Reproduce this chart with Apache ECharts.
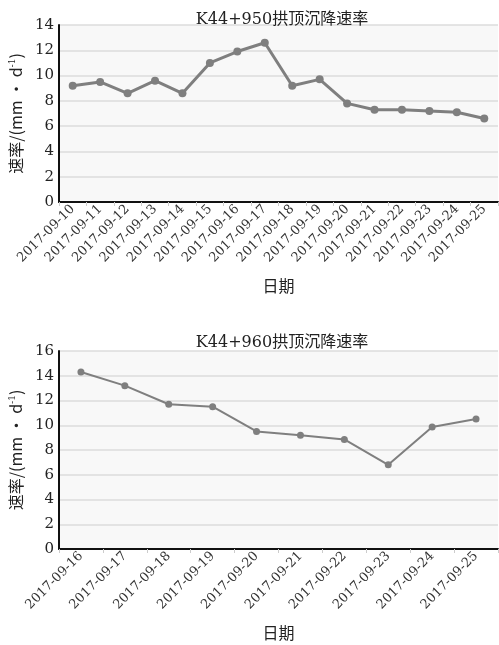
<!DOCTYPE html>
<html>
<head>
<meta charset="utf-8">
<script src="https://cdn.jsdelivr.net/npm/echarts@6/dist/echarts.min.js"></script>
<style>
html, body { margin: 0; padding: 0; background: #fff; }
#main { width: 499px; height: 645px; }
</style>
</head>
<body>
<div id="main"></div>
<script>
var dates1 = ['2017-09-10','2017-09-11','2017-09-12','2017-09-13','2017-09-14','2017-09-15','2017-09-16','2017-09-17',
              '2017-09-18','2017-09-19','2017-09-20','2017-09-21','2017-09-22','2017-09-23','2017-09-24','2017-09-25'];
var rate1 = [9.2, 9.5, 8.6, 9.6, 8.6, 11.0, 11.9, 12.6, 9.2, 9.7, 7.8, 7.3, 7.3, 7.2, 7.1, 6.6];

var dates2 = ['2017-09-16','2017-09-17','2017-09-18','2017-09-19','2017-09-20','2017-09-21','2017-09-22','2017-09-23',
              '2017-09-24','2017-09-25'];
var rate2 = [14.3, 13.2, 11.7, 11.5, 9.5, 9.2, 8.85, 6.8, 9.85, 10.5];

var title1 = 'K44+950拱顶沉降速率';
var title2 = 'K44+960拱顶沉降速率';
var yName = '速率/(mm • d{s|-1})';
var xName = '日期';

var font = "'DejaVu Serif', 'Liberation Serif', 'Noto Sans CJK SC', serif";
var cjk = "'Noto Sans CJK SC', sans-serif";

var myChart = echarts.init(document.getElementById('main'));

function xAxis(idx, data) {
    return {
        type: 'category',
        gridIndex: idx,
        data: data,
        boundaryGap: true,
        name: xName,
        nameLocation: 'middle',
        nameGap: 76,
        nameTextStyle: { fontFamily: cjk, fontSize: 16, color: '#222' },
        axisLine: { lineStyle: { color: '#111', width: 2 } },
        axisTick: { show: true, length: 4, lineStyle: { color: '#ccc' } },
        axisLabel: { rotate: 45, fontFamily: font, fontSize: 13, color: '#333', margin: 5, interval: 0 },
        splitLine: { show: false }
    };
}

function yAxis(idx, max) {
    return {
        type: 'value',
        gridIndex: idx,
        min: 0,
        max: max,
        interval: 2,
        name: yName,
        nameLocation: 'middle',
        nameGap: 34,
        nameRotate: 90,
        nameTextStyle: {
            fontFamily: cjk, fontSize: 16, color: '#222',
            rich: { s: { fontFamily: font, fontSize: 9, verticalAlign: 'top', color: '#222' } }
        },
        axisLine: { show: true, lineStyle: { color: '#111', width: 2 } },
        axisTick: { show: false },
        axisLabel: { fontFamily: font, fontSize: 15, color: '#222', margin: 5 },
        splitLine: { lineStyle: { color: '#dddddd', width: 1.5 } }
    };
}

option = {
    backgroundColor: '#fff',
    title: [
        { text: title1, left: 277, top: 7, textAlign: 'center',
          textStyle: { fontFamily: font, fontSize: 16, fontWeight: 'normal', color: '#222' } },
        { text: title2, left: 277, top: 330, textAlign: 'center',
          textStyle: { fontFamily: font, fontSize: 16, fontWeight: 'normal', color: '#222' } }
    ],
    grid: [
        { left: 52, width: 446, top: 25, height: 177, show: true, backgroundColor: '#f8f8f8', borderWidth: 0 },
        { left: 52, width: 446, top: 351, height: 198, show: true, backgroundColor: '#f8f8f8', borderWidth: 0 }
    ],
    xAxis: [xAxis(0, dates1), xAxis(1, dates2)],
    yAxis: [yAxis(0, 14), yAxis(1, 16)],
    series: [
        {
            type: 'line', xAxisIndex: 0, yAxisIndex: 0, data: rate1,
            symbol: 'circle', symbolSize: 8,
            lineStyle: { color: '#7f7f7f', width: 3 },
            itemStyle: { color: '#7f7f7f' }
        },
        {
            type: 'line', xAxisIndex: 1, yAxisIndex: 1, data: rate2,
            symbol: 'circle', symbolSize: 7,
            lineStyle: { color: '#7f7f7f', width: 2 },
            itemStyle: { color: '#7f7f7f' }
        }
    ]
};

myChart.setOption(option);
</script>
</body>
</html>
